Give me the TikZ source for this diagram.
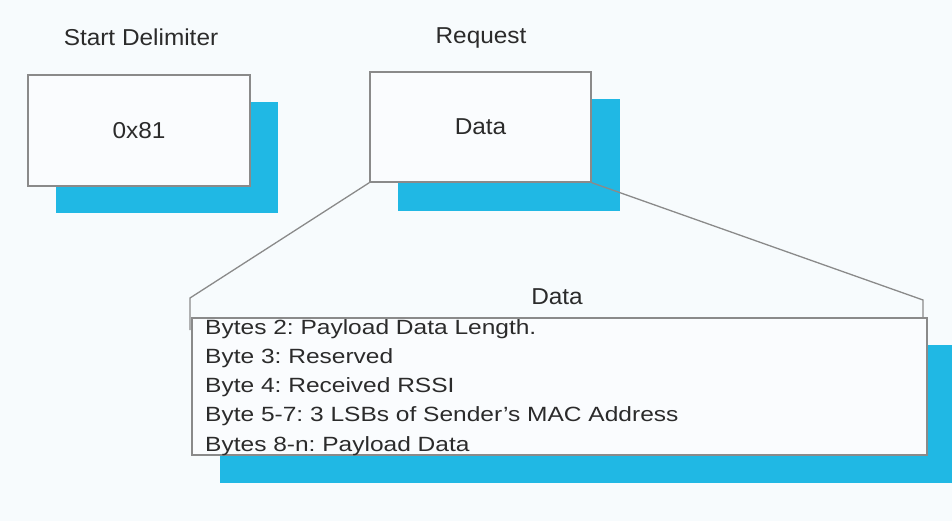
\documentclass[tikz,border=0pt]{standalone}
\usepackage{fontspec}
\setmainfont{Liberation Sans}
\newfontfamily\widefont[FakeStretch=1.19]{Liberation Sans}
\newfontfamily\labelfont[FakeStretch=1.06]{Liberation Sans}
\definecolor{bgcol}{HTML}{F7FBFD}
\definecolor{boxcol}{HTML}{FAFCFE}
\definecolor{shadecol}{HTML}{20B8E4}
\definecolor{edgecol}{HTML}{8A8A8A}
\definecolor{txtcol}{HTML}{2B2B2B}
\begin{document}
\frenchspacing
\begin{tikzpicture}[x=1pt,y=-1pt,
  frame/.style={draw=edgecol,line width=1.3pt,fill=boxcol,inner sep=0pt},
  shade/.style={fill=shadecol,inner sep=0pt},
  lbl/.style={text=txtcol,font=\labelfont\fontsize{23}{27}\selectfont,inner sep=0pt},
  line/.style={text=txtcol,font=\widefont\fontsize{20.6}{24}\selectfont,inner sep=0pt,anchor=base west}]
 \useasboundingbox[fill=bgcol] (0,0) rectangle (952,521);
 % shadows
 \node[shade,minimum width=222pt,minimum height=111pt] (sdshade) at (167,157.5) {};
 \node[shade,minimum width=222pt,minimum height=112pt] (rqshade) at (509,155) {};
 \begin{scope}
  \clip (0,0) rectangle (952,521);
  \node[shade,minimum width=740pt,minimum height=138pt] (dtshade) at (590,414) {};
 \end{scope}
 % boxes on top
 \node[frame,minimum width=222pt,minimum height=111pt] (sd) at (139,130.5) {};
 \node[frame,minimum width=221pt,minimum height=110pt] (rq) at (480.5,127) {};
 \node[lbl] (sdval) at (sd.center) {0x81};
 \node[lbl] (rqval) at (rq.center) {Data};
 \node[lbl] (sdname) at (141,37) {Start Delimiter};
 \node[lbl] (rqname) at (481,38) {Request};
 % callout
 \coordinate (cl) at (190,298);
 \coordinate (clb) at (190,330);
 \coordinate (cr) at (923,300);
 \coordinate (crb) at (923,317);
 \draw[edgecol,line width=1.3pt] (rq.south west) -- (cl) -- (clb);
 \draw[edgecol,line width=1.3pt] (rq.south east) -- (cr) -- (crb);
 \node[frame,minimum width=735pt,minimum height=137pt] (dt) at (559.5,386.5) {};
 \node[lbl] (dtname) at (557,297) {Data};
 \node[line] (b2) at (205,334) {Bytes 2: Payload Data Length.};
 \node[line] (b3) at (205,363.3) {Byte 3: Reserved};
 \node[line] (b4) at (205,392.6) {Byte 4: Received RSSI};
 \node[line] (b5) at (205,421.9) {Byte 5-7: 3 LSBs of Sender’s MAC Address};
 \node[line] (b8) at (205,451.2) {Bytes 8-n: Payload Data};
\end{tikzpicture}
\end{document}
